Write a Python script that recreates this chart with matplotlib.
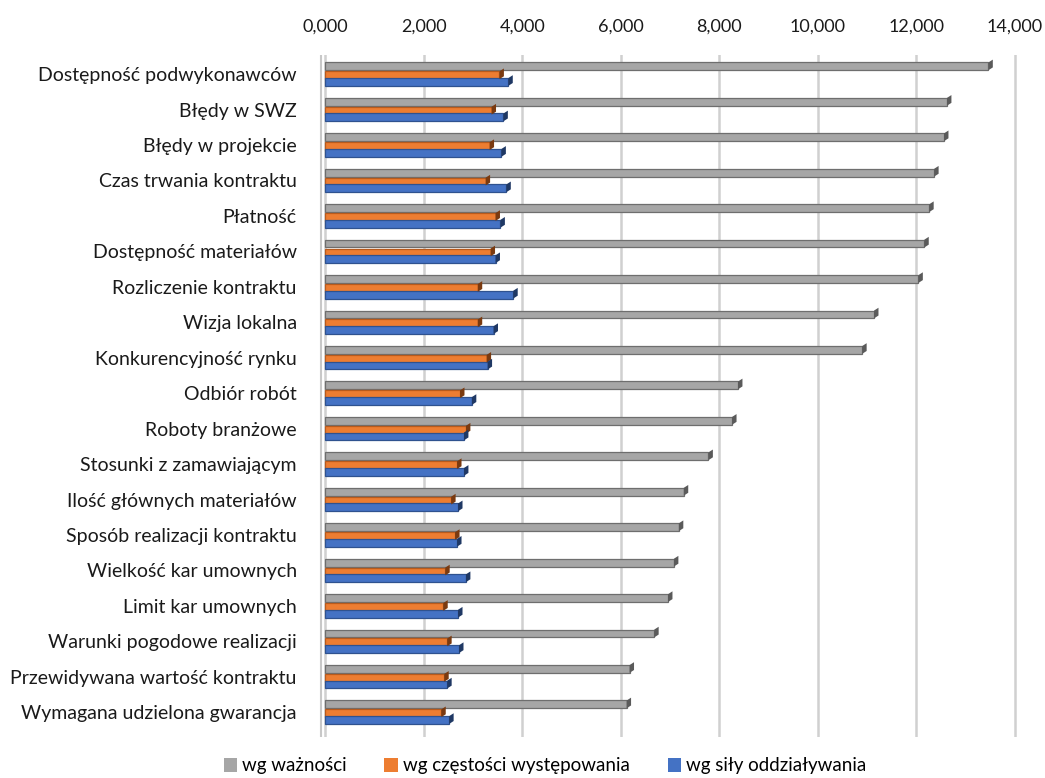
import matplotlib
matplotlib.use("Agg")
import matplotlib.pyplot as plt
import numpy as np
from matplotlib.patches import Patch, Polygon

categories = [
    "Dostępność podwykonawców",
    "Błędy w SWZ",
    "Błędy w projekcie",
    "Czas trwania kontraktu",
    "Płatność",
    "Dostępność materiałów",
    "Rozliczenie kontraktu",
    "Wizja lokalna",
    "Konkurencyjność rynku",
    "Odbiór robót",
    "Roboty branżowe",
    "Stosunki z zamawiającym",
    "Ilość głównych materiałów",
    "Sposób realizacji kontraktu",
    "Wielkość kar umownych",
    "Limit kar umownych",
    "Warunki pogodowe realizacji",
    "Przewidywana wartość kontraktu",
    "Wymagana udzielona gwarancja",
]
waznosc = [13.46, 12.62, 12.56, 12.36, 12.26, 12.16, 12.04, 11.14, 10.90,
           8.38, 8.26, 7.78, 7.28, 7.18, 7.08, 6.96, 6.68, 6.18, 6.12]
czestosc = [3.54, 3.38, 3.34, 3.26, 3.46, 3.36, 3.10, 3.10, 3.28,
            2.74, 2.86, 2.68, 2.56, 2.64, 2.44, 2.40, 2.48, 2.42, 2.36]
sila = [3.72, 3.62, 3.58, 3.68, 3.56, 3.46, 3.82, 3.42, 3.30,
        2.98, 2.82, 2.82, 2.70, 2.68, 2.86, 2.70, 2.72, 2.48, 2.52]
series_names = ["wg ważności", "wg częstości występowania", "wg siły oddziaływania"]
xticks = [0, 2, 4, 6, 8, 10, 12, 14]

plt.rcParams['font.family'] = ['Lato', 'DejaVu Sans']

fig = plt.figure(figsize=(10.45, 7.78), dpi=100)
x0_px, x14_px = 325, 1015
upx = (x14_px - x0_px) / 14.0
xmin, xmax = -0.12, 14.05
left_px = x0_px + xmin * upx
right_px = x0_px + xmax * upx
ax = fig.add_axes([left_px/1045, 1-737/778, (right_px-left_px)/1045, (737-55)/778])

y = np.arange(len(categories))
h = 0.22
specs = [
    (waznosc, -0.22, "#A6A6A6", "#6E6E6E", "#5A5A5A"),
    (czestosc, 0.03, "#ED7D31", "#B85A1C", "#7A3A10"),
    (sila, 0.22, "#4472C4", "#2F528F", "#1F3864"),
]
for xv in xticks:
    ax.axvline(xv, color="#D0D0D0", lw=1.8, zorder=0)
ax.axvline(-0.08, color="#C8C8C8", lw=1.5, zorder=0)

for vals, off, fc, ec, side in specs:
    ax.barh(y + off, vals, height=h, color=fc, edgecolor=ec, linewidth=0.9, zorder=3)
    for yi, v in zip(y + off, vals):
        dx = 0.09
        dy = 0.08
        poly = Polygon([(v, yi - h/2), (v + dx, yi - h/2 - dy),
                        (v + dx, yi + h/2 - dy), (v, yi + h/2)],
                       closed=True, facecolor=side, edgecolor='none', zorder=4)
        ax.add_patch(poly)

ax.set_xlim(xmin, xmax)
ax.set_ylim(18.7, -0.54)
ax.set_yticks(y)
ax.set_yticklabels(categories, fontsize=14, color="#1a1a1a")
ax.xaxis.tick_top()
ax.set_xticks(xticks)
ax.set_xticklabels([f"{v:,.3f}".replace(",", " ").replace(".", ",").replace(" ", ",") for v in xticks],
                   fontsize=13, color="#1a1a1a")
ax.tick_params(axis='both', length=0)
ax.tick_params(axis='x', pad=15)
ax.tick_params(axis='y', pad=16)
for s in ax.spines.values():
    s.set_visible(False)

handles = [Patch(facecolor=c, edgecolor='none') for _, _, c, _, _ in specs]
fig.legend(handles, series_names, loc='center', bbox_to_anchor=(545/1045, 1-766/778),
           ncol=3, frameon=False, fontsize=13.5, handlelength=0.7, handleheight=0.7,
           handletextpad=0.3, columnspacing=2.0)

fig.savefig("out.png", dpi=100)
